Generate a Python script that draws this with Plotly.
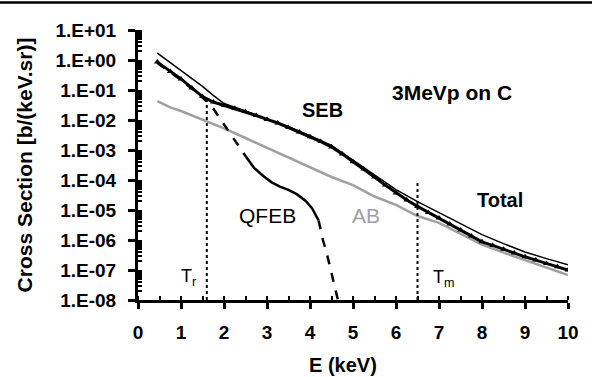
import plotly.graph_objects as go

# ---- data ----
E_total = [0.45, 0.75, 1.0, 1.25, 1.5, 1.75, 2.0, 2.5, 3.0, 3.5, 4.0, 4.5, 5.0, 5.5,
           6.0, 6.5, 7.0, 7.5, 8.0, 8.5, 9.0, 9.5, 10.0]
log_total = [0.23, -0.08, -0.35, -0.6, -0.88, -1.18, -1.45, -1.7, -1.98, -2.22, -2.52,
             -2.85, -3.33, -3.82, -4.32, -4.72, -5.08, -5.45, -5.82, -6.12, -6.4, -6.62, -6.83]

E_seb = [0.45, 0.75, 1.0, 1.25, 1.5, 1.75, 2.0, 2.25, 2.5, 2.75, 3.0, 3.25, 3.5, 3.75,
         4.0, 4.25, 4.5, 4.75, 5.0, 5.25, 5.5, 5.75, 6.0, 6.25, 6.5, 6.75, 7.0, 7.25,
         7.5, 7.75, 8.0, 8.25, 8.5, 8.75, 9.0, 9.25, 9.5, 9.75, 10.0]
log_seb = [-0.07, -0.38, -0.63, -0.93, -1.22, -1.4, -1.51, -1.62, -1.72, -1.85, -1.98,
           -2.1, -2.25, -2.4, -2.56, -2.72, -2.9, -3.13, -3.39, -3.63, -3.9, -4.17, -4.43,
           -4.67, -4.88, -5.08, -5.27, -5.47, -5.67, -5.87, -6.06, -6.18, -6.31, -6.43,
           -6.56, -6.67, -6.78, -6.89, -7.0]

E_ab = [0.45, 0.75, 1.0, 1.5, 2.0, 2.5, 3.0, 3.5, 4.0, 4.5, 5.0, 5.5, 6.0, 6.5, 7.0,
        7.5, 8.0, 8.5, 9.0, 9.5, 10.0]
log_ab = [-1.37, -1.58, -1.7, -1.98, -2.28, -2.6, -2.93, -3.25, -3.58, -3.9, -4.17,
          -4.55, -4.83, -5.2, -5.43, -5.8, -6.15, -6.42, -6.67, -6.92, -7.17]

E_qfeb = [0.45, 0.75, 1.0, 1.25, 1.5, 1.6, 1.75, 1.9, 2.1, 2.3, 2.5, 2.7, 2.9, 3.1,
          3.3, 3.5, 3.7, 3.9, 4.05, 4.2, 4.3, 4.4, 4.5, 4.6, 4.65]
log_qfeb = [-0.1, -0.4, -0.66, -0.95, -1.25, -1.38, -1.62, -1.93, -2.35, -2.77, -3.2,
            -3.6, -3.85, -4.07, -4.22, -4.33, -4.48, -4.7, -4.95, -5.35, -6.0, -6.5,
            -7.1, -7.65, -8.0]
QFEB_SOLID_FROM = 2.5   # energy where the QFEB curve turns from dashed to solid
QFEB_SOLID_TO = 4.2     # energy where it turns dashed again

T_R = 1.6
T_R_TOP = 0.045
T_M = 6.5
T_M_TOP = 1e-4
Y_FLOOR = 1e-8

y_tick_vals = [1e1, 1e0, 1e-1, 1e-2, 1e-3, 1e-4, 1e-5, 1e-6, 1e-7, 1e-8]
y_tick_text = ["1.E+01", "1.E+00", "1.E-01", "1.E-02", "1.E-03", "1.E-04",
               "1.E-05", "1.E-06", "1.E-07", "1.E-08"]
x_tick_vals = list(range(0, 11))

to_lin = lambda logs: [10 ** v for v in logs]

FONT = "Liberation Sans"
GRAY = "#a0a0a0"

fig = go.Figure()

# AB (gray)
fig.add_trace(go.Scatter(x=E_ab, y=to_lin(log_ab), mode="lines",
                         line=dict(color=GRAY, width=2.5), name="AB"))

# QFEB in three styled pieces
def piece(lo, hi):
    xs, ys = [], []
    for e, l in zip(E_qfeb, log_qfeb):
        if lo <= e <= hi:
            xs.append(e); ys.append(10 ** l)
    return xs, ys

x1, y1 = piece(0, QFEB_SOLID_FROM)
x2, y2 = piece(QFEB_SOLID_FROM, QFEB_SOLID_TO)
x3, y3 = piece(QFEB_SOLID_TO, 99)
fig.add_trace(go.Scatter(x=x1, y=y1, mode="lines",
                         line=dict(color="black", width=2.5, dash="dash"), name="QFEB"))
fig.add_trace(go.Scatter(x=x2, y=y2, mode="lines",
                         line=dict(color="black", width=2.5), name="QFEB"))
fig.add_trace(go.Scatter(x=x3, y=y3, mode="lines",
                         line=dict(color="black", width=2.5, dash="dash"), name="QFEB"))

# SEB (thick with triangles)
fig.add_trace(go.Scatter(x=E_seb, y=to_lin(log_seb), mode="lines+markers",
                         line=dict(color="black", width=3),
                         marker=dict(symbol="triangle-up", size=6, color="black"),
                         name="SEB"))

# Total (thin)
fig.add_trace(go.Scatter(x=E_total, y=to_lin(log_total), mode="lines",
                         line=dict(color="black", width=1.5), name="Total"))

# threshold lines
fig.add_trace(go.Scatter(x=[T_R, T_R], y=[Y_FLOOR, T_R_TOP], mode="lines",
                         line=dict(color="black", width=2, dash="dot"), name="Tr"))
fig.add_trace(go.Scatter(x=[T_M, T_M], y=[Y_FLOOR, T_M_TOP], mode="lines",
                         line=dict(color="black", width=2, dash="dot"), name="Tm"))

def ann(text, x, logy, size, bold=True, color="black", **kw):
    return dict(text=text, x=x, y=logy, xref="x", yref="y", showarrow=False,
                font=dict(family=FONT, size=size, color=color,
                          weight="bold" if bold else "normal"), **kw)

annotations = [
    ann("SEB", 4.28, -1.67, 20),
    ann("3MeVp on C", 7.3, -1.07, 21),
    ann("Total", 8.43, -4.67, 20),
    ann("QFEB", 3.02, -5.17, 21, bold=False),
    ann("AB", 5.3, -5.17, 21, bold=False, color=GRAY),
    ann("T<sub>r</sub>", 1.17, -7.25, 18, bold=False),
    ann("T<sub>m</sub>", 7.12, -7.27, 18, bold=False),
    dict(text="E (keV)", x=4.77, y=-65 / 270, xref="x", yref="paper", showarrow=False,
         xanchor="center", yanchor="middle",
         font=dict(family=FONT, size=20, color="black", weight="bold")),
]

fig.update_layout(
    width=592, height=377,
    margin=dict(l=138, r=24, t=30, b=77),
    paper_bgcolor="white", plot_bgcolor="white",
    showlegend=False,
    annotations=annotations,
    shapes=[dict(type="line", xref="paper", yref="paper",
                 x0=-138 / 430, x1=1 + 24 / 430, y0=1 + 27.5 / 270, y1=1 + 27.5 / 270,
                 line=dict(color="black", width=2.5))],
)

fig.update_xaxes(
    range=[0, 10], tickvals=x_tick_vals, showgrid=False, zeroline=False,
    showline=True, linecolor="black", linewidth=3,
    ticks="outside", ticklen=6, tickwidth=2.5, tickcolor="black",
    minor=dict(ticks="inside", ticklen=4, tickwidth=2, tickcolor="black", dtick=0.5, tick0=0),
    tickfont=dict(family=FONT, size=19, color="black", weight="bold"),
    ticklabelstandoff=7,
)

minor_log = [m * 10 ** k for k in range(-8, 1) for m in range(2, 10)]
fig.update_yaxes(
    type="log", range=[-8, 1], tickvals=y_tick_vals, ticktext=y_tick_text,
    showgrid=False, zeroline=False,
    showline=True, linecolor="black", linewidth=3,
    ticks="outside", ticklen=7, tickwidth=2.5, tickcolor="black",
    minor=dict(ticks="inside", ticklen=4, tickwidth=1.5, tickcolor="black", tickvals=minor_log),
    tickfont=dict(family=FONT, size=19, color="black", weight="bold"),
    ticklabelstandoff=8,
    title=dict(text="Cross Section [b/(keV.sr)]", standoff=18,
               font=dict(family=FONT, size=21, color="black", weight="bold")),
)

fig.write_html("out.html")
